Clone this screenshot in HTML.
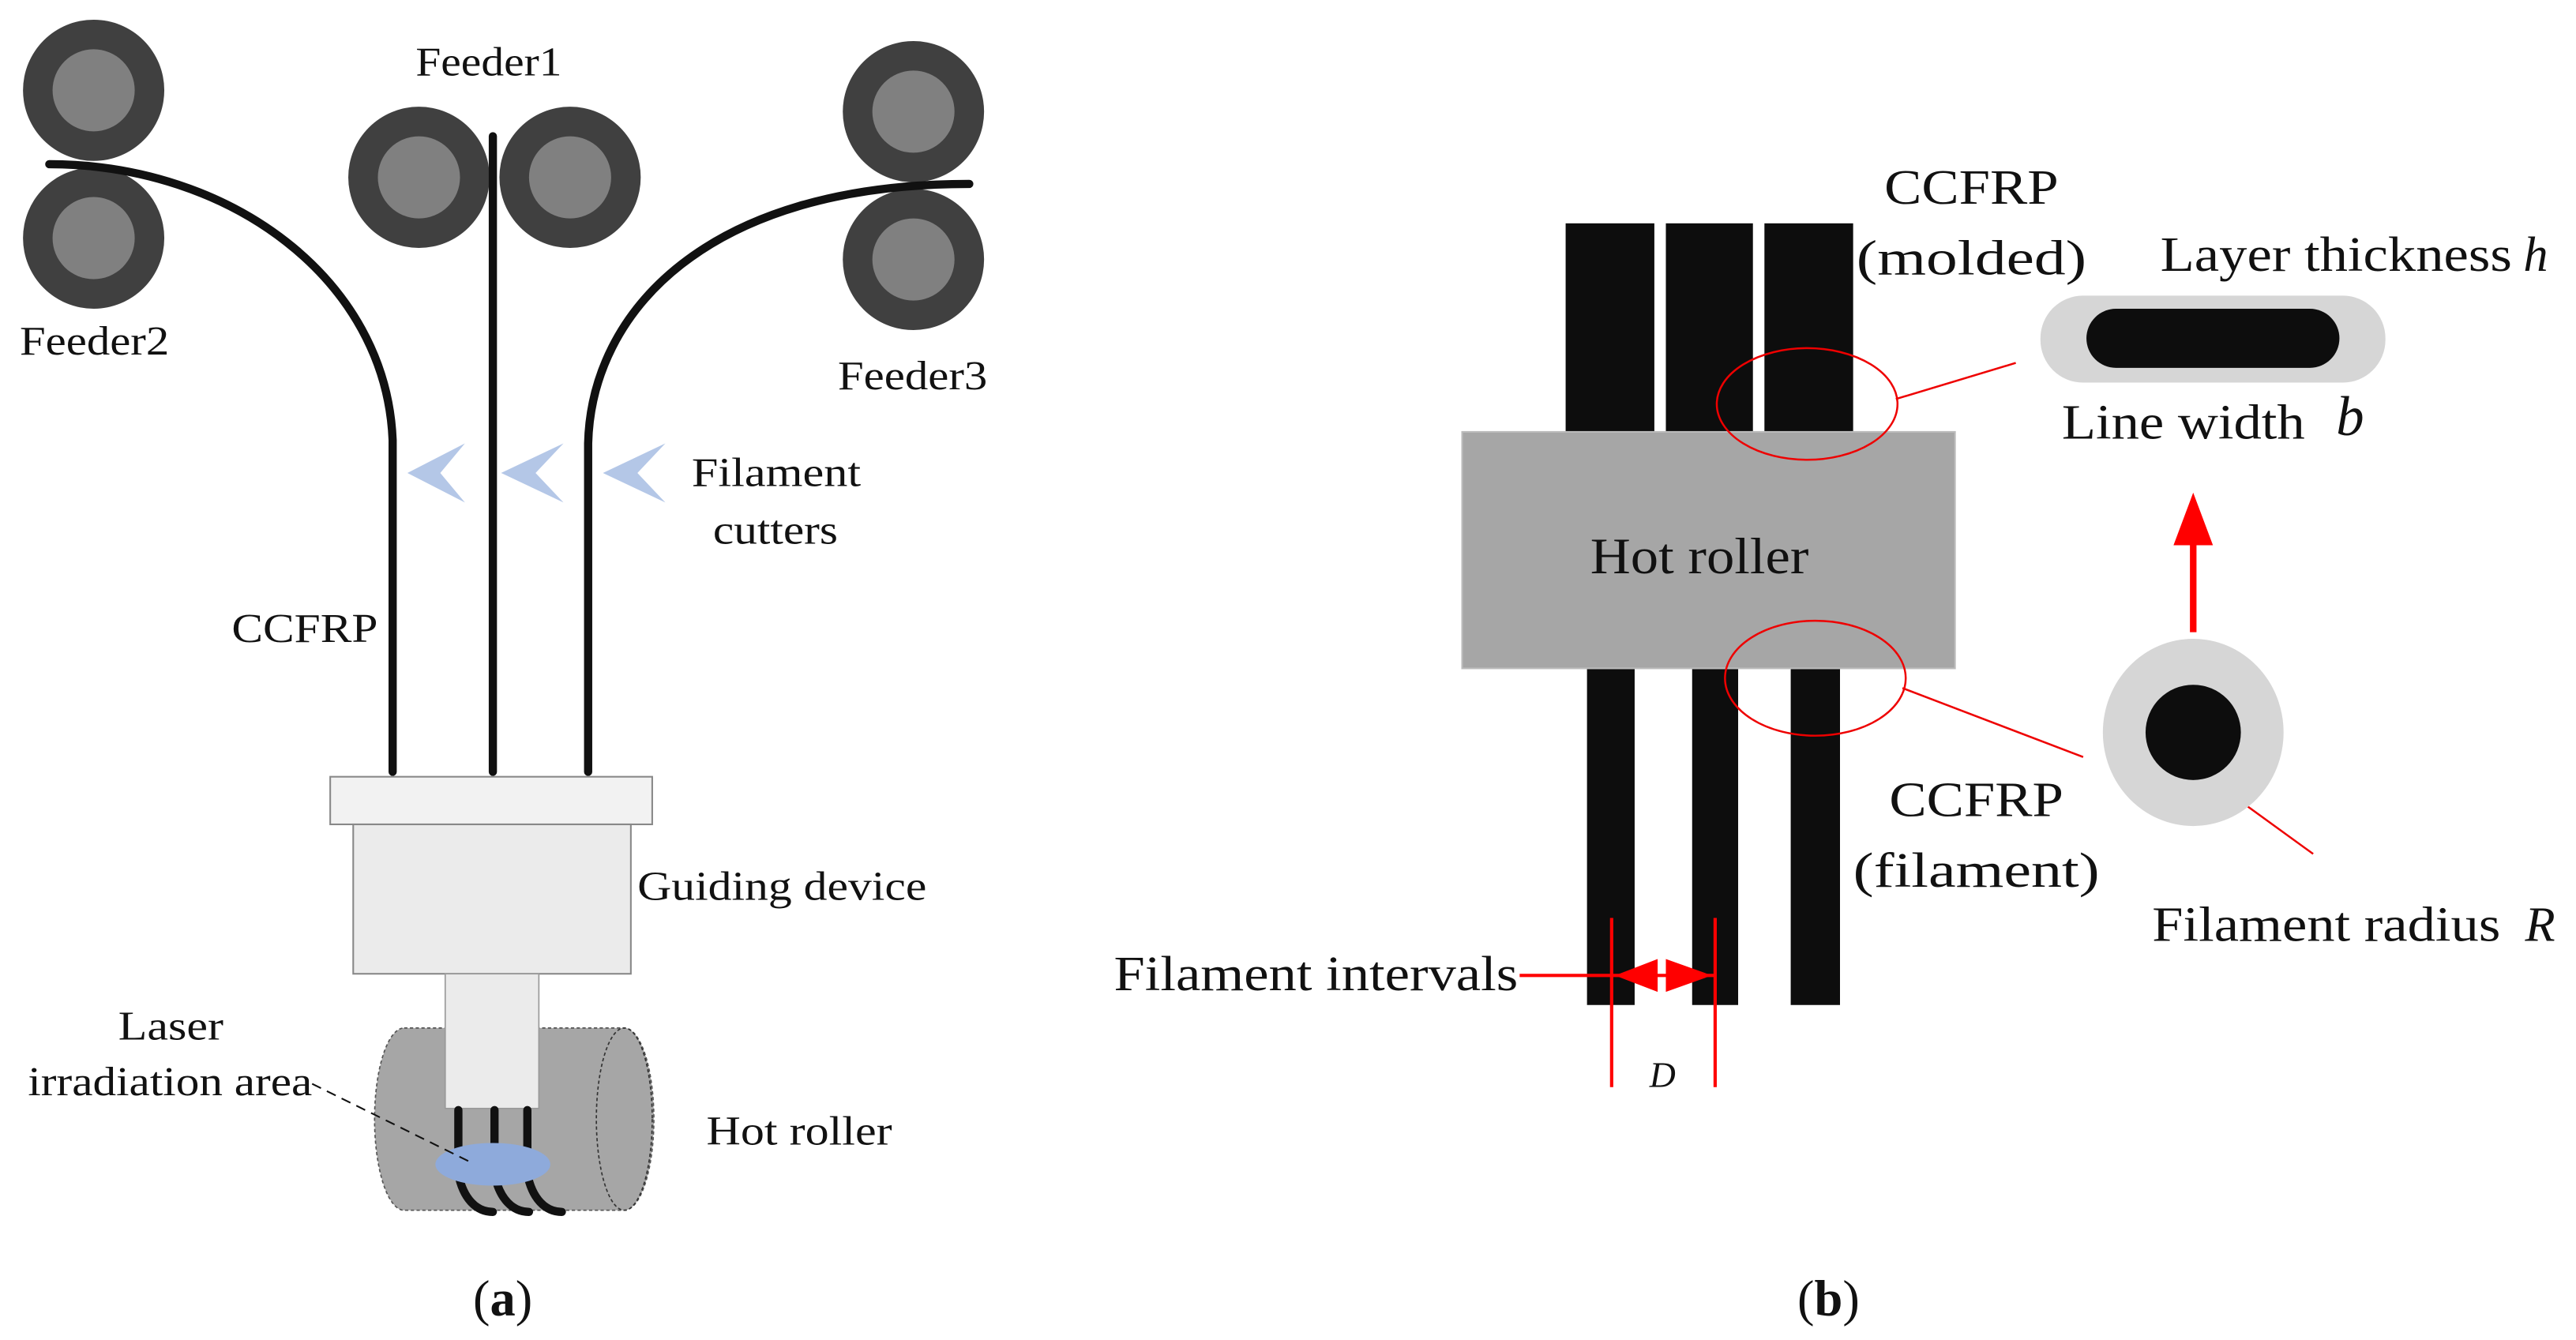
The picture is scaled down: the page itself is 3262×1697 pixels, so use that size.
<!DOCTYPE html>
<html><head><meta charset="utf-8"><style>
html,body{margin:0;padding:0;background:#fff;}
svg{display:block;}
text{font-family:"Liberation Serif","Times New Roman",serif;fill:#111;}
</style></head><body>
<svg width="3262" height="1697" viewBox="0 0 1568 816" preserveAspectRatio="none" xmlns="http://www.w3.org/2000/svg" font-family="Liberation Serif, serif">
<g fill="#404040">
<circle cx="57" cy="55" r="43"/><circle cx="57" cy="145" r="43"/>
<circle cx="255" cy="108" r="43"/><circle cx="347" cy="108" r="43"/>
<circle cx="556" cy="68" r="43"/><circle cx="556" cy="158" r="43"/>
</g>
<g fill="#808080">
<circle cx="57" cy="55" r="25"/><circle cx="57" cy="145" r="25"/>
<circle cx="255" cy="108" r="25"/><circle cx="347" cy="108" r="25"/>
<circle cx="556" cy="68" r="25"/><circle cx="556" cy="158" r="25"/>
</g>
<g fill="none" stroke="#111" stroke-width="5" stroke-linecap="round">
<path d="M30 100 C140 100 235 170 239 268 L239 470"/>
<path d="M300 83 L300 470"/>
<path d="M590 112 C430 112 360 190 358 270 L358 470"/>
</g>
<g fill="#b4c7e7">
<path d="M248 288 L283 270 L268 288 L283 306 Z"/>
<path d="M305 288 L343 270 L326 288 L343 306 Z"/>
<path d="M367 288 L405 270 L388 288 L405 306 Z"/>
</g>
<rect x="201" y="473" width="196" height="29" fill="#f2f2f2" stroke="#888" stroke-width="1"/>
<rect x="215" y="502" width="169" height="91" fill="#ebebeb" stroke="#888" stroke-width="1"/>
<path d="M246 626 L380 626 A18 55.5 0 0 1 380 737 L246 737 A18 55.5 0 0 1 246 626 Z" fill="#a6a6a6" stroke="#555" stroke-width="0.8" stroke-dasharray="2 1.5"/>
<ellipse cx="380" cy="681.5" rx="17" ry="55.5" fill="none" stroke="#333" stroke-width="0.8" stroke-dasharray="2 1.5"/>
<rect x="271" y="593" width="57" height="82" fill="#ebebeb" stroke="#999" stroke-width="0.8"/>
<g fill="none" stroke="#111" stroke-width="5" stroke-linecap="round">
<path d="M279 676 L279 715 C282 730 290 738 300 738"/>
<path d="M301 676 L301 715 C304 730 312 738 322 738"/>
<path d="M321 676 L321 715 C324 730 332 738 342 738"/>
</g>
<ellipse cx="300" cy="709" rx="35" ry="13" fill="#8eaadb"/>
<line x1="190" y1="660" x2="287" y2="708" stroke="#111" stroke-width="1" stroke-dasharray="6 4"/>
<g font-size="25">
<text x="253" y="46" textLength="89" lengthAdjust="spacingAndGlyphs">Feeder1</text>
<text x="12" y="216" textLength="91" lengthAdjust="spacingAndGlyphs">Feeder2</text>
<text x="510" y="237" textLength="91" lengthAdjust="spacingAndGlyphs">Feeder3</text>
<text x="421" y="296" textLength="103" lengthAdjust="spacingAndGlyphs">Filament</text>
<text x="434" y="331" textLength="76" lengthAdjust="spacingAndGlyphs">cutters</text>
<text x="141" y="391" textLength="89" lengthAdjust="spacingAndGlyphs">CCFRP</text>
<text x="388" y="548" textLength="176" lengthAdjust="spacingAndGlyphs">Guiding device</text>
<text x="72" y="633" textLength="64" lengthAdjust="spacingAndGlyphs">Laser</text>
<text x="17" y="667" textLength="173" lengthAdjust="spacingAndGlyphs">irradiation area</text>
<text x="430" y="697" textLength="113" lengthAdjust="spacingAndGlyphs">Hot roller</text>
</g>
<text x="306" y="801" font-size="31" text-anchor="middle">(<tspan font-weight="bold">a</tspan>)</text>
<g fill="#0d0d0d">
<rect x="953" y="136" width="54" height="127"/>
<rect x="1014" y="136" width="53" height="127"/>
<rect x="1074" y="136" width="54" height="127"/>
<rect x="966" y="407" width="29" height="205"/>
<rect x="1030" y="407" width="28" height="205"/>
<rect x="1090" y="407" width="30" height="205"/>
</g>
<rect x="890" y="263" width="300" height="144" fill="#a6a6a6" stroke="#bbb" stroke-width="1"/>
<text x="968" y="349" font-size="31" textLength="133" lengthAdjust="spacingAndGlyphs">Hot roller</text>
<g fill="none" stroke="#e00" stroke-width="1.2">
<ellipse cx="1100" cy="246" rx="55" ry="34"/>
<ellipse cx="1105" cy="413" rx="55" ry="35"/>
<line x1="1154" y1="243" x2="1227" y2="221"/>
<line x1="1158" y1="419" x2="1268" y2="461"/>
<line x1="1357" y1="483" x2="1408" y2="520"/>
</g>
<rect x="1242" y="180" width="210" height="53" rx="26" fill="#d6d6d6"/>
<rect x="1270" y="188" width="154" height="36" rx="18" fill="#0d0d0d"/>
<ellipse cx="1335" cy="446" rx="55" ry="57" fill="#d6d6d6"/>
<ellipse cx="1335" cy="446" rx="29" ry="29" fill="#0d0d0d"/>
<line x1="1335" y1="385" x2="1335" y2="330" stroke="#f00" stroke-width="4"/>
<path d="M1335 300 L1323 332 L1347 332 Z" fill="#f00"/>
<g stroke="#f00" stroke-width="2">
<line x1="981" y1="559" x2="981" y2="662"/>
<line x1="1044" y1="559" x2="1044" y2="662"/>
<line x1="925" y1="594" x2="1044" y2="594"/>
</g>
<path d="M983 594 L1009 584 L1009 604 Z M1042 594 L1014 584 L1014 604 Z" fill="#f00"/>
<g font-size="30">
<text x="1147" y="124" textLength="106" lengthAdjust="spacingAndGlyphs">CCFRP</text>
<text x="1130" y="167" textLength="140" lengthAdjust="spacingAndGlyphs">(molded)</text>
<text x="1315" y="165" textLength="214" lengthAdjust="spacingAndGlyphs">Layer thickness</text>
<text x="1536" y="165" font-style="italic">h</text>
<text x="1255" y="267" textLength="148" lengthAdjust="spacingAndGlyphs">Line width</text>
<text x="1422" y="265" font-style="italic" font-size="34">b</text>
<text x="1150" y="497" textLength="106" lengthAdjust="spacingAndGlyphs">CCFRP</text>
<text x="1128" y="540" textLength="150" lengthAdjust="spacingAndGlyphs">(filament)</text>
<text x="1310" y="573" textLength="212" lengthAdjust="spacingAndGlyphs">Filament radius</text>
<text x="1537" y="573" font-style="italic">R</text>
<text x="678" y="603" textLength="246" lengthAdjust="spacingAndGlyphs">Filament intervals</text>
</g>
<text x="1012" y="662" font-size="22" font-style="italic" text-anchor="middle">D</text>
<text x="1113" y="801" font-size="31" text-anchor="middle">(<tspan font-weight="bold">b</tspan>)</text>
</svg>
</body></html>
